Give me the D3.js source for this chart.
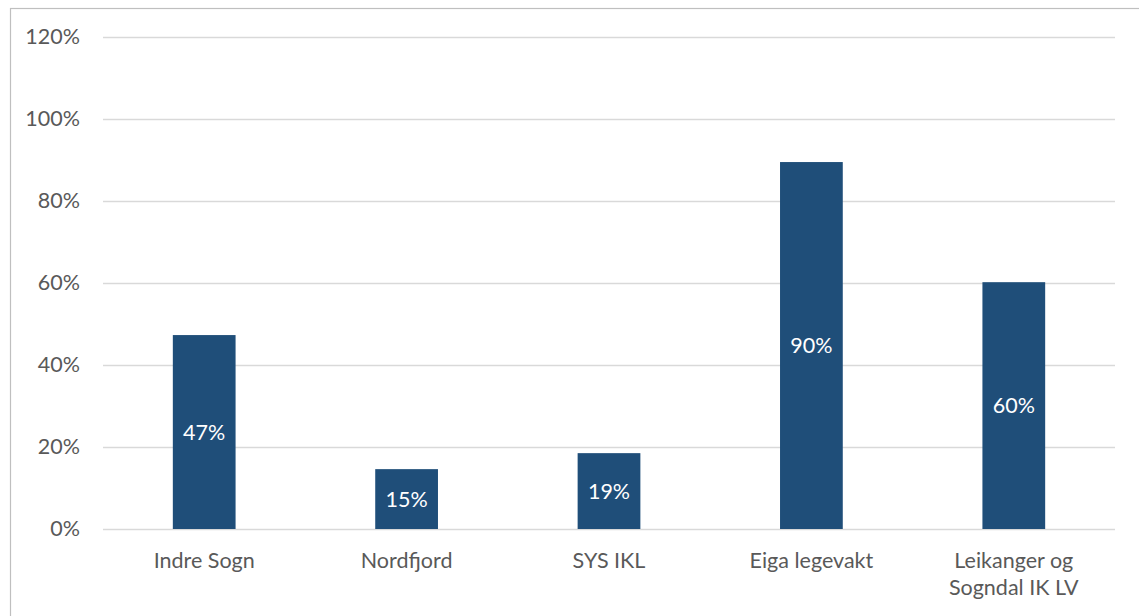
<!DOCTYPE html>
<html><head><meta charset="utf-8">
<script src="https://cdn.jsdelivr.net/npm/d3@7"></script>
<style>body{margin:0;background:#fff}svg{display:block}text{font-family:Lato,"Open Sans",sans-serif}</style>
</head><body><svg id="c" width="1139" height="616"></svg>
<script>
const categories = [["Indre Sogn"],["Nordfjord"],["SYS IKL"],["Eiga legevakt"],["Leikanger og","Sogndal IK LV"]];
const values = [0.473, 0.146, 0.185, 0.895, 0.602];
const labels = ["47%","15%","19%","90%","60%"];
const yTicks = [0,0.2,0.4,0.6,0.8,1.0,1.2];

const svg = d3.select("#c");
svg.append("rect").attr("x",10.5).attr("y",8.5).attr("width",1140).attr("height",620)
  .attr("fill","#fff").attr("stroke","#BFBFBF").attr("stroke-width",1.2);

const x = d3.scaleBand().domain(d3.range(categories.length)).range([103,1115]).paddingInner(0.69).paddingOuter(0.345);
const y = d3.scaleLinear().domain([0,1.2]).range([529,37]);

const fs = "21.5px";
const yAxis = svg.append("g").attr("transform","translate(103,0)")
  .call(d3.axisLeft(y).tickValues(yTicks).tickFormat(d3.format(".0%")).tickSize(-1012).tickPadding(23));
yAxis.select(".domain").remove();
yAxis.selectAll("line").attr("stroke","#D9D9D9").attr("stroke-width",1.5);
yAxis.selectAll("text").attr("fill","#595959").style("font-size",fs).attr("font-family","Lato");

svg.append("g").selectAll("rect").data(values).join("rect")
  .attr("x",(d,i)=>x(i)).attr("width",x.bandwidth())
  .attr("y",d=>y(d)).attr("height",d=>y(0)-y(d)).attr("fill","#1F4E79");

svg.append("g").selectAll("text").data(values).join("text")
  .attr("x",(d,i)=>x(i)+x.bandwidth()/2).attr("y",d=>(y(d)+y(0))/2)
  .attr("dy","0.35em").attr("text-anchor","middle").attr("fill","#fff")
  .style("font-size",fs).text((d,i)=>labels[i]);

const xl = svg.append("g");
categories.forEach((lines,i)=>{
  const t = xl.append("text").attr("x",x(i)+x.bandwidth()/2).attr("y",568)
    .attr("text-anchor","middle").attr("fill","#595959").style("font-size",fs);
  lines.forEach((l,j)=>t.append("tspan").attr("x",x(i)+x.bandwidth()/2).attr("dy",j?27:0).text(l));
});
</script></body></html>
